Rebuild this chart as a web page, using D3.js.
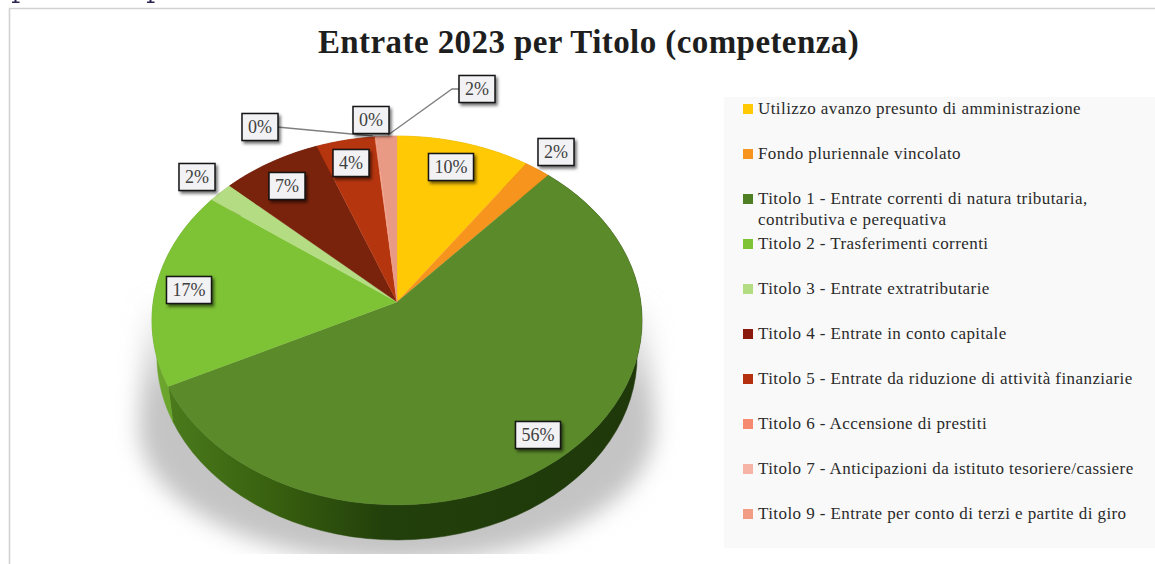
<!DOCTYPE html>
<html><head><meta charset="utf-8">
<script src="https://cdn.jsdelivr.net/npm/d3@7/dist/d3.min.js"></script>
<style>html,body{margin:0;padding:0;background:#fff;overflow:hidden}svg{display:block}
text{font-family:"Liberation Serif",serif}</style></head><body>
<script>
const titleText = "Entrate 2023 per Titolo (competenza)";
const categories = ["Utilizzo avanzo presunto di amministrazione","Fondo pluriennale vincolato",
 "Titolo 1 - Entrate correnti di natura tributaria,|contributiva e perequativa","Titolo 2 - Trasferimenti correnti",
 "Titolo 3 - Entrate extratributarie","Titolo 4 - Entrate in conto capitale",
 "Titolo 5 - Entrate da riduzione di attività finanziarie","Titolo 6 - Accensione di prestiti",
 "Titolo 7 - Anticipazioni da istituto tesoriere/cassiere","Titolo 9 - Entrate per conto di terzi e partite di giro"];
const values = [9.7,1.9,56.1,17.4,1.8,7.25,4.25,0.05,0.05,1.5];
const colors = ["#ffc905","#f7941d","#5b8a2a","#7ec235","#b4dc82","#7a230c","#b5350f","#f0886a","#f4b2a2","#e99a85"];
const legendColors = ["#ffc905","#f7941d","#4f7f23","#7ec235","#b4dc82","#8b1a0e","#b5300f","#f58a70","#f6b4a6","#f29c84"];
// label box layout (centre x, centre y), in category order
const labelLayout = [[451,167],[556,152],[538,435],[189,290],[197,177],[287,186],[351,163],[260,127],[371,120],[477,89]];
const leaderIdx = {7:[[277,127],[373,136]],9:[[461,89],[452,89],[388,135]]};
const legendRows = [109,154,199,244,289,334,379,424,469,514];

const W=1155,H=564, cx=397, cy=302, A=243.8, B=182.6, K=0.1003, depth=35, shrink=0.98;
const svg=d3.select("body").append("svg").attr("width",W).attr("height",H);
const defs=svg.append("defs");
const blur=defs.append("filter").attr("id","blur").attr("x","-20%").attr("y","-20%").attr("width","140%").attr("height","140%");
blur.append("feGaussianBlur").attr("stdDeviation",11);
const ds=defs.append("filter").attr("id","ds").attr("x","-30%").attr("y","-30%").attr("width","170%").attr("height","170%");
ds.append("feDropShadow").attr("dx",2).attr("dy",2.5).attr("stdDeviation",1.6).attr("flood-color","#000").attr("flood-opacity",0.55);
const sg=defs.append("linearGradient").attr("id","shadowFade").attr("gradientUnits","userSpaceOnUse").attr("x1",0).attr("x2",0).attr("y1",295).attr("y2",395);
sg.append("stop").attr("offset",0).attr("stop-color","#c4c4c4").attr("stop-opacity",0);
sg.append("stop").attr("offset",1).attr("stop-color","#c4c4c4").attr("stop-opacity",1);
const rg=defs.append("linearGradient").attr("id","rimMain").attr("gradientUnits","userSpaceOnUse").attr("x1",170).attr("x2",642).attr("y1",0).attr("y2",0);
[[0,"#4a7a1c"],[0.22,"#38600f"],[0.45,"#22400b"],[1,"#1f380a"]].forEach(s=>rg.append("stop").attr("offset",s[0]).attr("stop-color",s[1]));
defs.append("clipPath").attr("id","shadowClip").append("rect").attr("x",0).attr("y",0).attr("width",W).attr("height",554);

// frame
svg.append("rect").attr("x",0).attr("y",0).attr("width",W).attr("height",H).attr("fill","#fff");
svg.append("path").attr("d",`M${W},8.5H9.5V${H}`).attr("fill","none").attr("stroke","#d2d2d2").attr("stroke-width",1.6);
[12,147].forEach(x=>{svg.append("rect").attr("x",x).attr("y",1.5).attr("width",7.5).attr("height",1.5).attr("fill","#2a2450");
 svg.append("rect").attr("x",x+2.5).attr("y",0).attr("width",2).attr("height",2).attr("fill","#2a2450");});

// perspective projection of the unit disc
const proj=(a,s=1)=>{const u=Math.sin(a)*s,v=Math.cos(a)*s,w=1+K*v;return [cx+A*u/w,cy-B*v/w];};
const low=p=>[cx+(p[0]-cx)*shrink,p[1]+depth];
const arcs=d3.pie().sort(null).value(d=>d)(values);
const line=d3.line();
const samples=(a0,a1)=>d3.range(0,61).map(i=>a0+(a1-a0)*i/60);

// shadow: lower half ellipse closed by straight flanks up to the pie's waist
const sh=[[cx+251,300]].concat(samples(0,Math.PI).map(a=>[cx+258*Math.cos(a),428+134*Math.sin(a)]),[[cx-251,300]]);
svg.append("g").attr("clip-path","url(#shadowClip)").append("path").attr("d",line(sh)+"Z").attr("fill","url(#shadowFade)").attr("filter","url(#blur)");

// side walls
svg.append("g").selectAll("path").data(arcs).join("path")
 .attr("d",d=>{const s=samples(d.startAngle,d.endAngle);return line(s.map(a=>proj(a)).concat(s.slice().reverse().map(a=>low(proj(a)))))+"Z";})
 .attr("fill",(d,i)=>i===2?"url(#rimMain)":d3.color(colors[i]).darker(0.45))
 .attr("stroke",(d,i)=>i===2?"url(#rimMain)":d3.color(colors[i]).darker(0.45)).attr("stroke-width",0.5);
svg.append("g").selectAll("path").data(arcs).join("path")
 .attr("d",d=>line([[cx,cy]].concat(samples(d.startAngle,d.endAngle).map(a=>proj(a))))+"Z")
 .attr("fill",(d,i)=>colors[i]).attr("stroke",(d,i)=>colors[i]).attr("stroke-width",0.3);

// leaders
Object.values(leaderIdx).forEach(p=>svg.append("path").attr("d",line(p)).attr("fill","none").attr("stroke","#7f7f7f").attr("stroke-width",1.3));

// labels
const labels=svg.append("g").selectAll("g").data(values).join("g").attr("transform",(d,i)=>`translate(${labelLayout[i]})`);
const fmt=d=>Math.round(d)+"%";
labels.each(function(d,i){const g=d3.select(this),t=fmt(d),w=t.length>2?45:36,h=27;
 g.append("rect").attr("x",-w/2).attr("y",-h/2).attr("width",w).attr("height",h).attr("fill","#f2f2f4").attr("stroke","#161616").attr("stroke-width",1.5).attr("filter","url(#ds)");
 g.append("text").attr("text-anchor","middle").attr("y",6).attr("font-size",18).attr("fill","#404040").text(t);});

// title
svg.append("text").attr("x",588.5).attr("y",53).attr("text-anchor","middle").attr("font-size",33).attr("letter-spacing",0.42).attr("font-weight","bold").attr("fill","#1e1e1e").text(titleText);

// legend
svg.append("rect").attr("x",724).attr("y",97).attr("width",431).attr("height",451).attr("fill","#f9f9f9");
const lg=svg.append("g").selectAll("g").data(categories).join("g").attr("transform",(d,i)=>`translate(743,${legendRows[i]})`);
lg.append("rect").attr("x",0).attr("y",-5).attr("width",10).attr("height",10).attr("fill",(d,i)=>legendColors[i]);
lg.each(function(d){const g=d3.select(this);d.split("|").forEach((s,j)=>g.append("text").attr("x",15).attr("y",5+j*21).attr("font-size",17).attr("letter-spacing",0.42).attr("fill","#2a2a2a").text(s));});
</script></body></html>
